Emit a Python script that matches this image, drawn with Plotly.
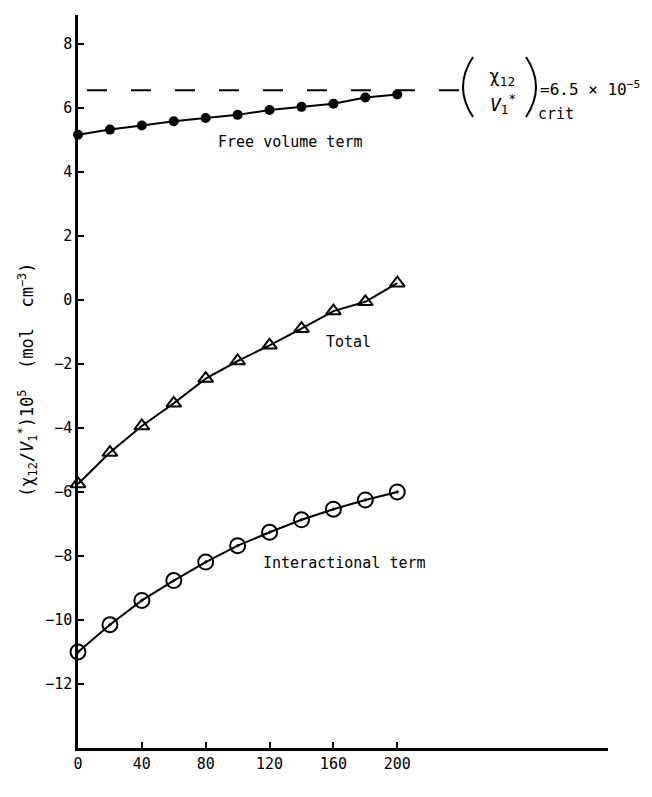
import plotly.graph_objects as go

# ---- data ----
T = [0, 20, 40, 60, 80, 100, 120, 140, 160, 180, 200]
free_volume = [5.16, 5.32, 5.45, 5.58, 5.68, 5.78, 5.93, 6.03, 6.13, 6.32, 6.42]
total = [-5.75, -4.77, -3.94, -3.23, -2.46, -1.91, -1.42, -0.90, -0.35, -0.06, 0.52]
interactional = [-11.0, -10.15, -9.39, -8.77, -8.19, -7.68, -7.26, -6.87, -6.54, -6.25, -6.0]
crit_level = 6.55
x_ticks = [0, 40, 80, 120, 160, 200]
y_ticks = [-12, -10, -8, -6, -4, -2, 0, 2, 4, 6, 8]

W, H = 652, 797
ML, MR, MT, MB = 78, 44, 15, 49
XR = [0, 332]
YR = [-14, 8.9]

def fx(px):
    return XR[0] + (px - ML) * (XR[1] - XR[0]) / (W - ML - MR)

def fy(py):
    return YR[1] - (py - MT) * (YR[1] - YR[0]) / (H - MT - MB)

FONT = "DejaVu Sans Mono"
fig = go.Figure()

line = dict(color="black", width=2)
fig.add_trace(go.Scatter(x=T, y=free_volume, mode="lines+markers", line=line,
                         marker=dict(symbol="circle", size=10, color="black"),
                         cliponaxis=False, showlegend=False))
fig.add_trace(go.Scatter(x=T, y=total, mode="lines+markers", line=line,
                         marker=dict(symbol="triangle-up-open", size=13, color="black",
                                     line=dict(width=2, color="black")),
                         cliponaxis=False, showlegend=False))
fig.add_trace(go.Scatter(x=T, y=interactional, mode="lines+markers", line=line,
                         marker=dict(symbol="circle-open-dot", size=15, color="black",
                                     line=dict(width=2, color="black")),
                         cliponaxis=False, showlegend=False))

# dashed critical level
fig.add_shape(type="line", xref="x", yref="y", x0=fx(87), x1=fx(466),
              y0=crit_level, y1=crit_level,
              line=dict(color="black", width=2, dash="20px,24px"))

# parentheses for critical annotation
def paren(x_end, x_ctrl, ytop, ybot):
    ym = (ytop + ybot) / 2
    return (f"M {fx(x_end)},{fy(ytop)} Q {fx(x_ctrl)},{fy(ym)} {fx(x_end)},{fy(ybot)}")

fig.add_shape(type="path", xref="x", yref="y", path=paren(473, 453, 57, 117),
              line=dict(color="black", width=2))
fig.add_shape(type="path", xref="x", yref="y", path=paren(526, 546, 57, 117),
              line=dict(color="black", width=2))

def ann(text, px, py, size=15, xanchor="center", **kw):
    fig.add_annotation(text=text, x=fx(px), y=fy(py), xref="x", yref="y",
                       showarrow=False, xanchor=xanchor, yanchor="middle",
                       font=dict(family=FONT, size=size, color="black"), **kw)

ann("χ<sub>12</sub>", 502, 77, size=18)
ann("<i>V</i><sub>1</sub><sup>*</sup>", 503, 104, size=18)
ann("crit", 536, 114, xanchor="left")
ann("=6.5 × 10<sup>−5</sup>", 538, 88, size=16, xanchor="left")

ann("Free volume term", 290, 142)
ann("Total", 348, 342)
ann("Interactional term", 344, 563)
ann("<i>T</i>  (°C)", 354, 787)

fig.add_annotation(text="(χ<sub>12</sub>/<i>V</i><sub>1</sub><sup>*</sup>)10<sup>5</sup>  (mol  cm<sup>−3</sup>)",
                   xref="paper", yref="paper", x=(28 - ML) / (W - ML - MR),
                   y=(H - MB - 380) / (H - MT - MB), textangle=-90,
                   showarrow=False, xanchor="center", yanchor="middle",
                   font=dict(family=FONT, size=17, color="black"))

axis_common = dict(showgrid=False, zeroline=False, showline=True, linecolor="black",
                   linewidth=2.5, ticks="inside", ticklen=6, tickwidth=2,
                   tickcolor="black", tickfont=dict(family=FONT, size=15, color="black"))
fig.update_xaxes(range=XR, tickvals=x_ticks, ticktext=[str(v) for v in x_ticks], **axis_common)
fig.update_yaxes(range=YR, tickvals=y_ticks,
                 ticktext=[str(v).replace("-", "−") for v in y_ticks], **axis_common)

fig.update_layout(width=W, height=H, margin=dict(l=ML, r=MR, t=MT, b=MB),
                  plot_bgcolor="white", paper_bgcolor="white")
fig.write_html("out.html")
